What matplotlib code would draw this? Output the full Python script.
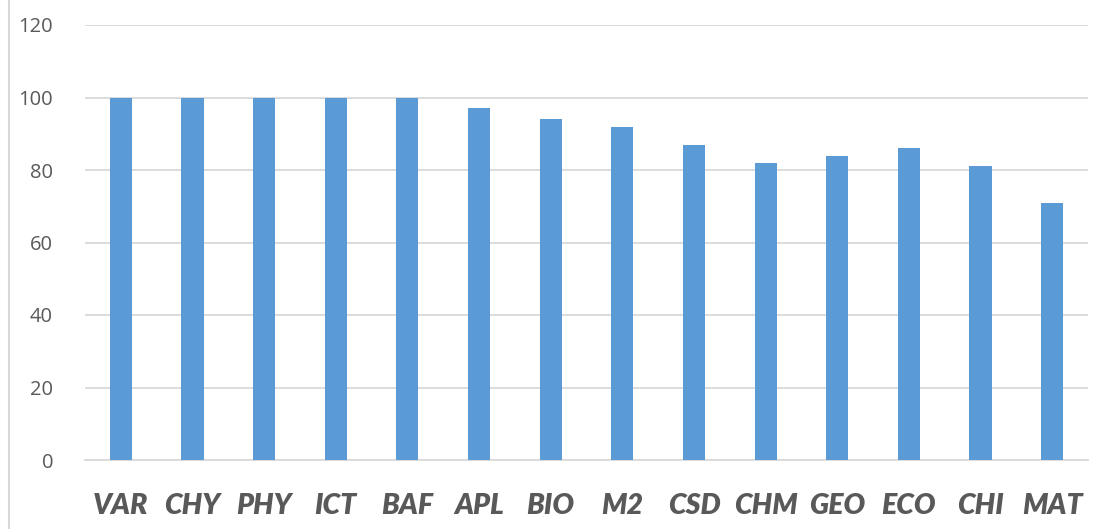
import matplotlib
matplotlib.use("Agg")
import matplotlib.pyplot as plt
from matplotlib.lines import Line2D

categories = ["VAR", "CHY", "PHY", "ICT", "BAF", "APL", "BIO", "M2", "CSD", "CHM", "GEO", "ECO", "CHI", "MAT"]
values = [100, 100, 100, 100, 100, 97, 94, 92, 87, 82, 84, 86, 81, 71]
yticks = [0, 20, 40, 60, 80, 100, 120]

W, H = 1106, 529
fig = plt.figure(figsize=(W / 100, H / 100), dpi=100)
ax = fig.add_axes([85 / W, 1 - 460 / H, (1088 - 85) / W, (460 - 25) / H])

x = list(range(len(categories)))
ax.bar(x, values, width=0.31, color="#5B9BD5", zorder=3)
ax.set_xlim(-0.5, len(categories) - 0.5)
ax.set_ylim(0, 120)
ax.set_yticks(yticks)
ax.yaxis.grid(True, color="#D9D9D9", linewidth=1.3, zorder=0)
ax.set_xticks(x)
ax.set_xticklabels(categories, fontfamily="Lato", fontweight="heavy", fontstyle="italic",
                   fontsize=20.5, color="#595959")
for lbl in ax.get_yticklabels():
    lbl.set_fontfamily("Open Sans")
    lbl.set_fontsize(14.5)
    lbl.set_color("#595959")
ax.tick_params(axis="both", length=0)
ax.tick_params(axis="x", pad=24)
ax.tick_params(axis="y", pad=23)
for s in ["top", "right", "left"]:
    ax.spines[s].set_visible(False)
ax.spines["bottom"].set_color("#D9D9D9")
ax.spines["bottom"].set_linewidth(1.3)

fig.add_artist(Line2D([9 / W, 9 / W], [0, 1], color="#D9D9D9", linewidth=1.5, transform=fig.transFigure))

fig.savefig("out.png", dpi=100)
